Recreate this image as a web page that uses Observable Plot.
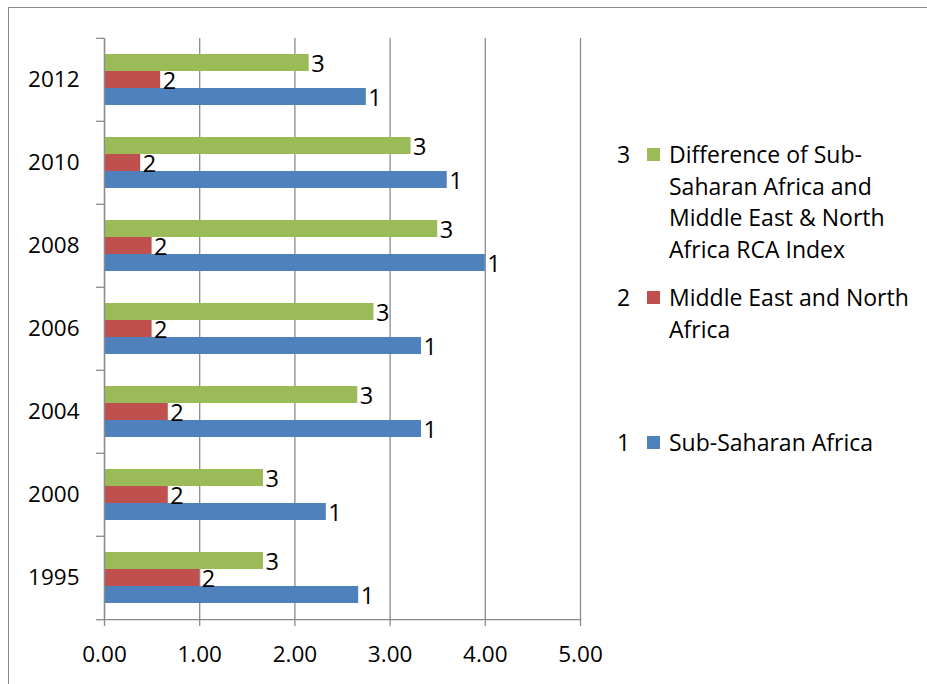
<!DOCTYPE html>
<html>
<head>
<meta charset="utf-8">
<script src="https://cdn.jsdelivr.net/npm/d3@7"></script>
<script src="https://cdn.jsdelivr.net/npm/@observablehq/plot@0.6"></script>
<style>
  html, body { margin: 0; padding: 0; background: #fff; overflow: hidden; }
  #wrap { position: relative; width: 927px; height: 684px; font-family: "Open Sans", sans-serif; }
  #border { position: absolute; left: 8px; top: 7px; width: 940px; height: 700px; border: 1.5px solid #8a8a8a; box-sizing: border-box; }
  #chart { position: absolute; left: 0; top: 0; }
  .lg { position: absolute; font-size: 23px; line-height: 31.5px; color: #000; }
  .lg .num { position: absolute; left: 0; top: 0; }
  .lg .sw { position: absolute; left: 30px; top: 9px; width: 13px; height: 13px; }
  .lg .txt { position: absolute; left: 52px; top: 0; white-space: nowrap; }
</style>
</head>
<body>
<div id="wrap">
  <div id="border"></div>
  <div id="chart"></div>
  <div id="legend"></div>
</div>
<script>
// ---- data ----
const years = ["1995", "2000", "2004", "2006", "2008", "2010", "2012"];
const subSaharan = [2.67, 2.33, 3.33, 3.33, 4.00, 3.60, 2.75];
const mena = [1.00, 0.67, 0.67, 0.50, 0.50, 0.38, 0.59];
const difference = [1.67, 1.67, 2.66, 2.83, 3.50, 3.22, 2.15];
const seriesKeys = ["1", "2", "3"];
const seriesColors = ["#4F81BD", "#C0504D", "#9BBB59"];
const legendLines = [
  ["Sub-Saharan Africa"],
  ["Middle East and North", "Africa"],
  ["Difference of Sub-", "Saharan Africa and", "Middle East & North", "Africa RCA Index"]
];
const xTicks = [0, 1, 2, 3, 4, 5];

const seriesValues = [subSaharan, mena, difference];
const data = [];
years.forEach((y, i) => {
  seriesKeys.forEach((k, s) => data.push({year: y, series: k, value: seriesValues[s][i]}));
});

// ---- layout ----
const W = 927, H = 684;
const mL = 104, mR = 347, mT = 36, mB = 64;
const step = (H - mT - mB) / years.length;
const gray = "#8a8a8a";
const font = "Open Sans, sans-serif";

const plot = Plot.plot({
  width: W,
  height: H,
  marginLeft: mL,
  marginRight: mR,
  marginTop: mT,
  marginBottom: mB,
  style: {fontFamily: font, fontSize: "22px", color: "#000", background: "transparent"},
  x: {domain: [0, 5]},
  y: {domain: ["3", "2", "1"], paddingInner: 0, paddingOuter: 0.82, axis: null},
  fy: {domain: years.slice().reverse(), padding: 0},
  color: {domain: seriesKeys, range: seriesColors},
  marks: [
    Plot.gridX(xTicks, {stroke: gray, strokeOpacity: 1, strokeWidth: 1.3}),
    Plot.barX(data, {x: "value", y: "series", fy: "year", fill: "series"}),
    Plot.text(data, {x: "value", y: "series", fy: "year", text: "series", textAnchor: "start", dx: 2, dy: 1.5, fontSize: 23.5, fill: "#000"}),
    Plot.ruleX([0], {stroke: gray, strokeWidth: 1.3}),
    Plot.axisX({ticks: xTicks, tickSize: 7, tickPadding: 20, tickFormat: ".2f", fontSize: 22.5, stroke: gray, strokeWidth: 1.3, label: null, color: "#000"}),
    Plot.axisFy({anchor: "left", tickSize: 0, tickPadding: 25, fontSize: 22.5, label: null}),
    Plot.axisFy({anchor: "left", tickSize: 8, tickFormat: () => "", dy: -step / 2, stroke: gray, strokeWidth: 1.3, label: null}),
    Plot.axisFy({anchor: "left", ticks: [years[0]], tickSize: 8, tickFormat: () => "", dy: step / 2, stroke: gray, strokeWidth: 1.3, label: null}),
    Plot.axisFy({anchor: "left", ticks: [years[0]], tickSize: -(W - mL - mR), tickFormat: () => "", dy: step / 2, stroke: gray, strokeWidth: 1.3, label: null})
  ]
});
document.getElementById("chart").appendChild(plot);

// ---- legend (HTML) ----
const legendTops = [427, 282, 139];
const lg = document.getElementById("legend");
seriesKeys.forEach((k, s) => {
  const d = document.createElement("div");
  d.className = "lg";
  d.style.left = "617px";
  d.style.top = legendTops[s] + "px";
  d.innerHTML = `<span class="num">${k}</span><span class="sw" style="background:${seriesColors[s]}"></span><span class="txt">${legendLines[s].join("<br>")}</span>`;
  lg.appendChild(d);
});
</script>
</body>
</html>
